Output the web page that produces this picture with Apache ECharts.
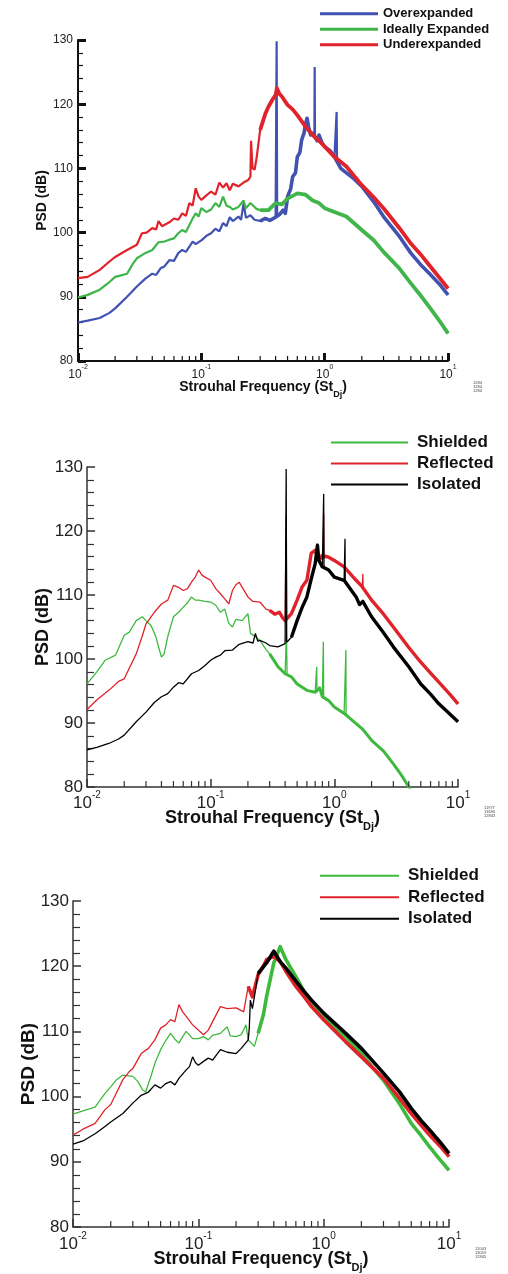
<!DOCTYPE html>
<html><head><meta charset="utf-8">
<script src="https://cdn.jsdelivr.net/npm/echarts@6/dist/echarts.min.js"></script>
<style>html,body{margin:0;padding:0;background:#fff}#c{width:508px;height:1274px}</style>
</head><body><div id="c"></div>
<script>
// ---------- tick labels ----------
const yTicks = [80, 90, 100, 110, 120, 130];
const xDecades = [0.01, 0.1, 1, 10];
const xMinorTicks = [0.02,0.03,0.04,0.05,0.06,0.07,0.08,0.09,0.2,0.3,0.4,0.5,0.6,0.7,0.8,0.9,2,3,4,5,6,7,8,9];

// ---------- panel 1 ----------
const p1Names = ['Overexpanded', 'Ideally Expanded', 'Underexpanded'];
const p1Over = [[0.01,86.0],[0.012,86.3],[0.015,86.7],[0.018,87.5],[0.02,88.2],[0.025,90.0],[0.03,91.6],[0.035,92.8],[0.04,93.6],[0.043,93.4],[0.047,94.5],[0.05,94.7],[0.055,95.7],[0.06,95.6],[0.065,96.8],[0.07,97.3],[0.075,97.0],[0.08,97.8],[0.085,98.6],[0.09,98.2],[0.1,98.8],[0.11,99.5],[0.12,99.9],[0.13,100.6],[0.14,100.2],[0.15,101.5],[0.16,101.0],[0.17,102.4],[0.18,101.8],[0.2,102.5],[0.21,102.0],[0.22,104.6],[0.23,102.3],[0.25,102.7],[0.27,102.0],[0.3,101.8],[0.33,102.2],[0.36,101.9],[0.4,102.4],[0.43,102.8],[0.46,103.5],[0.48,103.0],[0.5,105.6],[0.53,106.8],[0.55,108.7],[0.58,109.3],[0.6,111.8],[0.63,112.5],[0.65,114.4],[0.68,115.5],[0.7,117.0],[0.72,117.8],[0.74,116.5],[0.77,115.2],[0.8,115.5],[0.87,114.3],[0.9,115.2],[0.95,114.0],[1.0,113.4],[1.1,112.8],[1.2,111.8],[1.35,110.0],[1.5,109.3],[1.7,108.5],[2.0,107.2],[2.5,104.8],[3.0,102.5],[4.0,99.5],[5.0,96.8],[6.0,95.0],[7.0,93.7],[8.5,92.0],[10,90.3]];
const p1OverTones = [[0.405,102.6],[0.408,129.8],[0.412,102.8],[0.825,114.8],[0.83,125.8],[0.835,114.8],[1.24,111.5],[1.25,118.8],[1.26,111.3]];
const p1Ideal = [[0.01,89.9],[0.012,90.3],[0.015,91.1],[0.018,92.3],[0.02,93.1],[0.022,93.3],[0.025,93.6],[0.028,95.2],[0.03,96.0],[0.035,96.8],[0.04,97.3],[0.045,98.5],[0.05,98.6],[0.055,98.9],[0.06,99.1],[0.065,99.9],[0.07,100.4],[0.075,100.1],[0.08,101.2],[0.085,102.2],[0.09,103.0],[0.095,102.5],[0.1,103.8],[0.11,103.2],[0.12,103.6],[0.13,104.6],[0.14,104.0],[0.15,105.6],[0.16,104.2],[0.17,104.0],[0.18,103.6],[0.2,104.0],[0.22,105.0],[0.23,103.8],[0.25,104.6],[0.28,103.7],[0.3,103.5],[0.35,103.5],[0.4,104.6],[0.45,104.4],[0.5,105.3],[0.6,106.1],[0.7,105.9],[0.8,105.0],[0.9,104.6],[1.0,103.8],[1.2,103.2],[1.5,102.5],[2.0,100.4],[2.5,98.8],[3.0,97.0],[4.0,94.5],[5.0,92.1],[6.0,90.2],[7.0,88.5],[8.5,86.3],[10,84.3]];
const p1Under = [[0.01,92.9],[0.012,93.1],[0.015,94.2],[0.018,95.5],[0.02,96.2],[0.025,97.3],[0.03,98.1],[0.033,99.9],[0.036,100.0],[0.04,100.7],[0.043,100.5],[0.045,101.8],[0.048,101.0],[0.05,101.2],[0.055,101.6],[0.06,102.2],[0.065,102.0],[0.07,103.0],[0.075,102.6],[0.08,104.6],[0.085,104.2],[0.09,106.9],[0.095,105.6],[0.1,105.1],[0.11,105.8],[0.12,106.4],[0.13,105.9],[0.14,107.8],[0.15,107.0],[0.16,107.7],[0.17,106.6],[0.18,107.6],[0.2,107.2],[0.22,107.8],[0.24,108.2],[0.25,108.7],[0.253,114.3],[0.26,110.0],[0.27,109.8],[0.28,111.5],[0.3,116.0],[0.33,118.5],[0.35,119.6],[0.38,120.8],[0.4,121.4],[0.41,122.5],[0.43,121.6],[0.45,121.2],[0.5,119.9],[0.55,119.2],[0.6,118.3],[0.7,116.5],[0.8,115.2],[0.9,114.3],[1.0,113.4],[1.2,111.8],[1.5,110.3],[2.0,107.4],[2.5,105.5],[3.0,103.8],[4.0,100.8],[5.0,98.3],[6.0,96.6],[7.0,95.0],[8.5,93.0],[10,91.3]];

// ---------- panel 2 ----------
const p23Names = ['Shielded', 'Reflected', 'Isolated'];
const p2Shielded = [[0.01,96.1],[0.012,98.0],[0.014,99.8],[0.017,100.6],[0.02,103.7],[0.022,104.2],[0.025,106.0],[0.028,106.6],[0.03,106.0],[0.033,105.2],[0.036,103.5],[0.038,101.8],[0.04,100.3],[0.042,100.8],[0.045,103.5],[0.05,106.6],[0.055,107.3],[0.06,108.1],[0.065,108.8],[0.07,109.7],[0.075,109.2],[0.08,109.2],[0.09,109.0],[0.1,108.9],[0.11,108.4],[0.12,107.3],[0.13,107.8],[0.14,105.6],[0.15,105.0],[0.16,106.2],[0.18,106.0],[0.2,107.1],[0.21,104.0],[0.23,103.5],[0.25,102.9],[0.28,101.5],[0.3,100.8],[0.35,98.8],[0.4,97.7],[0.45,97.2],[0.5,96.1],[0.6,95.1],[0.7,94.8],[0.76,95.5],[0.8,94.1],[0.9,93.5],[1.0,92.5],[1.2,91.5],[1.5,89.9],[1.7,89.0],[2.0,87.3],[2.5,85.6],[3.0,83.6],[3.5,81.8],[4.0,80.0],[4.5,78.5]];
const p2ShieldedTones = [[0.405,97.6],[0.41,104.0],[0.415,97.5],[0.715,94.8],[0.72,98.8],[0.725,94.8],[0.81,94.2],[0.815,102.7],[0.82,94.0],[1.235,91.3],[1.24,101.4],[1.245,91.2]];
const p2Reflected = [[0.01,92.1],[0.012,93.6],[0.015,95.1],[0.018,96.5],[0.02,96.9],[0.022,98.6],[0.025,100.8],[0.028,103.6],[0.03,105.5],[0.035,107.3],[0.04,108.6],[0.045,109.2],[0.05,111.5],[0.055,111.2],[0.06,110.7],[0.065,111.0],[0.07,112.0],[0.075,112.8],[0.08,113.9],[0.085,113.1],[0.09,112.8],[0.1,112.3],[0.11,111.0],[0.12,110.2],[0.13,109.4],[0.14,108.6],[0.15,110.7],[0.16,111.6],[0.17,112.0],[0.18,111.2],[0.2,109.7],[0.22,109.0],[0.25,108.9],[0.28,107.8],[0.3,107.6],[0.33,107.0],[0.36,107.3],[0.38,106.5],[0.4,106.0],[0.45,107.1],[0.5,109.2],[0.55,111.3],[0.6,112.3],[0.65,116.5],[0.7,117.0],[0.75,115.4],[0.8,116.2],[0.9,115.9],[1.0,115.4],[1.2,114.4],[1.5,112.3],[1.68,111.3],[1.72,111.0],[2.0,109.2],[2.5,107.0],[3.0,105.0],[4.0,101.8],[5.0,99.5],[6.0,97.8],[7.0,96.4],[8.5,94.6],[10,93.0]];
const p2ReflectedTones = [[0.405,106.2],[0.408,122.4],[0.412,106.5],[0.815,115.8],[0.82,122.7],[0.825,115.8],[1.69,111.3],[1.7,113.3],[1.71,111.1]];
const p2Isolated = [[0.01,85.8],[0.012,86.2],[0.015,86.8],[0.018,87.5],[0.02,88.1],[0.025,90.2],[0.03,91.7],[0.035,93.2],[0.04,94.1],[0.045,94.6],[0.05,95.6],[0.055,96.3],[0.06,96.1],[0.07,97.7],[0.08,98.2],[0.09,99.0],[0.1,99.8],[0.11,100.3],[0.12,100.6],[0.13,101.3],[0.15,101.4],[0.17,102.3],[0.2,102.7],[0.22,102.5],[0.23,104.0],[0.24,102.8],[0.25,102.9],[0.28,102.5],[0.3,102.1],[0.35,101.9],[0.4,102.4],[0.45,103.4],[0.5,106.0],[0.55,108.1],[0.6,109.7],[0.65,112.5],[0.7,114.9],[0.73,117.8],[0.75,115.4],[0.8,114.4],[0.9,113.9],[1.0,112.8],[1.2,112.3],[1.5,109.7],[1.6,108.5],[1.7,109.0],[2.0,106.6],[2.5,104.1],[3.0,101.9],[4.0,98.8],[5.0,96.1],[6.0,94.5],[7.0,93.0],[8.5,91.5],[10,90.2]];
const p2IsolatedTones = [[0.405,102.5],[0.408,129.7],[0.412,102.6],[0.815,114.3],[0.82,125.8],[0.825,114.2],[1.215,112.2],[1.22,118.8],[1.225,112.0]];

// ---------- panel 3 ----------
const p3Shielded = [[0.01,97.3],[0.012,97.8],[0.015,98.4],[0.018,100.5],[0.02,101.5],[0.022,102.5],[0.025,103.3],[0.03,103.1],[0.033,102.3],[0.036,101.0],[0.038,100.7],[0.042,103.2],[0.045,105.1],[0.05,107.2],[0.055,108.6],[0.06,109.7],[0.065,108.8],[0.07,108.2],[0.075,109.2],[0.08,110.0],[0.09,108.9],[0.1,108.9],[0.11,109.2],[0.12,108.7],[0.13,109.4],[0.15,109.7],[0.17,110.7],[0.18,109.3],[0.2,109.2],[0.22,109.5],[0.24,111.0],[0.25,108.7],[0.28,107.7],[0.3,109.7],[0.33,112.5],[0.35,115.3],[0.4,120.5],[0.45,123.0],[0.5,121.0],[0.6,118.4],[0.7,116.1],[0.8,114.3],[1.0,112.3],[1.5,109.2],[2.0,106.6],[3.0,102.5],[4.0,99.0],[5.0,95.9],[6.0,94.0],[7.0,92.3],[8.5,90.3],[10,88.7]];
const p3Reflected = [[0.01,94.1],[0.012,95.0],[0.015,95.9],[0.018,98.0],[0.02,98.8],[0.022,100.4],[0.025,102.6],[0.028,103.8],[0.03,104.3],[0.035,106.6],[0.04,107.4],[0.045,108.7],[0.05,110.5],[0.055,111.0],[0.06,111.8],[0.065,111.5],[0.07,114.1],[0.075,113.0],[0.08,112.3],[0.09,111.0],[0.1,110.2],[0.11,109.5],[0.12,110.2],[0.13,111.5],[0.15,113.8],[0.17,113.5],[0.2,113.6],[0.23,113.0],[0.25,116.9],[0.27,115.3],[0.3,118.7],[0.33,120.0],[0.35,121.0],[0.4,121.5],[0.45,120.7],[0.5,119.2],[0.6,116.9],[0.7,115.3],[0.8,113.8],[1.0,111.8],[1.5,108.4],[2.0,106.1],[3.0,102.8],[4.0,99.8],[5.0,97.4],[6.0,95.6],[7.0,94.1],[8.5,92.4],[10,90.8]];
const p3Isolated = [[0.01,92.7],[0.012,93.2],[0.015,94.3],[0.018,95.4],[0.02,96.1],[0.025,97.4],[0.03,99.0],[0.035,100.2],[0.04,100.7],[0.045,101.8],[0.05,101.3],[0.055,102.0],[0.06,102.3],[0.065,101.8],[0.07,102.8],[0.08,104.1],[0.085,104.6],[0.09,106.1],[0.095,105.2],[0.1,104.8],[0.11,105.4],[0.12,105.9],[0.13,105.6],[0.15,107.2],[0.17,106.8],[0.2,106.6],[0.22,107.4],[0.25,108.7],[0.255,110.5],[0.26,114.8],[0.27,113.5],[0.28,115.3],[0.3,118.9],[0.35,120.5],[0.4,122.3],[0.45,120.7],[0.5,119.7],[0.6,117.7],[0.7,116.1],[0.8,114.8],[1.0,112.8],[1.5,109.7],[2.0,107.4],[3.0,103.6],[4.0,100.8],[5.0,98.2],[6.0,96.3],[7.0,94.9],[8.5,93.0],[10,91.3]];

// ---------- build ----------
const FONT = '"Liberation Sans", Arial, Helvetica, sans-serif';
const BLUE = '#4252b0', GREEN1 = '#3fb54a', GREEN = '#3dba3d', RED = '#e0232b', BLACK = '#000000';

function mkLines(idx, name, color, broad, tones, thr, thinW, thickW) {
  const merged = broad.concat(tones || []).sort((a, b) => a[0] - b[0]);
  return [
    { type: 'line', name: name, xAxisIndex: idx, yAxisIndex: idx, data: merged, symbol: 'none',
      lineStyle: { color: color, width: thinW }, itemStyle: { color: color }, animation: false, z: 2 },
    { type: 'line', name: name + ' hf', xAxisIndex: idx, yAxisIndex: idx, data: broad.filter(d => d[0] >= thr),
      symbol: 'none', lineStyle: { color: color, width: thickW, join: 'round' }, itemStyle: { color: color }, animation: false, z: 2 }
  ];
}
function minorTicks(idx, len, w, color) {
  return { type: 'custom', xAxisIndex: idx, yAxisIndex: idx, silent: true, clip: false, z: 5, animation: false,
    data: xMinorTicks.map(v => [v, yTicks[0]]),
    renderItem: function (params, api) {
      const p = api.coord([api.value(0), api.value(1)]);
      return { type: 'line', shape: { x1: p[0], y1: p[1], x2: p[0], y2: p[1] - len }, style: { stroke: color, lineWidth: w } };
    } };
}
function xAx(idx, s) {
  return { type: 'log', logBase: 10, gridIndex: idx, min: xDecades[0], max: xDecades[xDecades.length - 1],
    name: '{t|Strouhal Frequency (St}{sub|Dj}{t|)}', nameLocation: 'middle', nameGap: s.nameGap, nameMoveOverlap: false,
    nameTextStyle: { rich: {
      t: { fontFamily: FONT, fontWeight: 'bold', fontSize: s.nameSize, color: '#111', lineHeight: s.nameSize + 5, verticalAlign: 'top' },
      sub: { fontFamily: FONT, fontWeight: 'bold', fontSize: Math.round(s.nameSize * 0.62), color: '#111', lineHeight: Math.round(s.nameSize * 0.62), verticalAlign: 'bottom' } } },
    axisLine: { onZero: false, lineStyle: { color: s.axisColor, width: s.axisW } },
    axisTick: { inside: true, length: s.majLen, lineStyle: { color: s.axisColor, width: s.majW } },
    minorTick: { show: false }, splitLine: { show: false },
    axisLabel: { margin: s.labMargin, formatter: v => '{b|10}{s|' + Math.round(Math.log10(v)) + '}',
      rich: { b: { fontFamily: FONT, fontSize: s.labSize, color: '#222', lineHeight: s.labSize + 5, verticalAlign: 'bottom' },
              s: { fontFamily: FONT, fontSize: Math.round(s.labSize * 0.6), color: '#222', lineHeight: Math.round(s.labSize * 0.6), verticalAlign: 'top' } } } };
}
function yAx(idx, s) {
  return { type: 'value', gridIndex: idx, min: yTicks[0], max: yTicks[yTicks.length - 1], interval: 10,
    name: 'PSD (dB)', nameLocation: 'middle', nameRotate: 90, nameGap: s.yNameGap, nameMoveOverlap: false,
    nameTextStyle: { fontFamily: FONT, fontWeight: 'bold', fontSize: s.yNameSize, color: '#111' },
    axisLine: { lineStyle: { color: s.axisColor, width: s.axisW } },
    axisTick: { inside: true, length: s.majLen, lineStyle: { color: s.axisColor, width: s.majW } },
    minorTick: { show: true, splitNumber: 5, length: s.minLen, lineStyle: { color: s.axisColor, width: s.minW } },
    splitLine: { show: false },
    axisLabel: { margin: s.yLabMargin, fontFamily: FONT, fontSize: s.labSize, color: '#222' } };
}
const S1 = { nameGap: 19, nameSize: 14, axisColor: '#111', axisW: 2, majLen: 8, majW: 3, minLen: 5, minW: 1.2, labMargin: 3, labSize: 12, yNameGap: 29, yNameSize: 14, yLabMargin: 5 };
const S2 = { nameGap: 22, nameSize: 18, axisColor: '#333', axisW: 1.5, majLen: 8, majW: 1.5, minLen: 7, minW: 1.2, labMargin: 3, labSize: 17, yNameGap: 35, yNameSize: 18, yLabMargin: 4 };
const S3 = { nameGap: 23, nameSize: 18, axisColor: '#333', axisW: 1.5, majLen: 8, majW: 1.5, minLen: 7, minW: 1.2, labMargin: 4, labSize: 17, yNameGap: 35, yNameSize: 19, yLabMargin: 4 };

function legend(names, s) {
  return { data: names, orient: 'vertical', left: s.left, top: s.top, icon: 'rect', itemWidth: s.w, itemHeight: s.h, itemGap: 0,
    selectedMode: false,
    textStyle: { fontFamily: FONT, fontWeight: 'bold', fontSize: s.size, color: '#111', lineHeight: s.lh, padding: [0, 0, 0, s.pad] } };
}

const series = [].concat(
  mkLines(0, p1Names[0], BLUE, p1Over, p1OverTones, 0.3, 2.2, 3.6),
  mkLines(0, p1Names[1], GREEN1, p1Ideal, [], 0.3, 2.2, 3.8),
  mkLines(0, p1Names[2], RED, p1Under, [], 0.3, 2.2, 3.8),
  mkLines(1, p23Names[0], GREEN, p2Shielded, p2ShieldedTones, 0.3, 1.3, 3.0),
  mkLines(1, p23Names[1], RED, p2Reflected, p2ReflectedTones, 0.3, 1.3, 3.4),
  mkLines(1, p23Names[2], BLACK, p2Isolated, p2IsolatedTones, 0.45, 1.3, 3.4),
  mkLines(2, p23Names[0], GREEN, p3Shielded, [], 0.3, 1.3, 3.6),
  mkLines(2, p23Names[1], RED, p3Reflected, [], 0.25, 1.3, 3.6),
  mkLines(2, p23Names[2], BLACK, p3Isolated, [], 0.3, 1.3, 3.6),
  [minorTicks(0, 5, 1.2, '#111'), minorTicks(1, 6, 1.2, '#333'), minorTicks(2, 6, 1.2, '#333')]
);

const chart = echarts.init(document.getElementById('c'), null, { renderer: 'canvas' });
chart.setOption({
  backgroundColor: '#ffffff',
  animation: false,
  grid: [
    { left: 78, top: 40, width: 370, height: 321 },
    { left: 87, top: 467, width: 371, height: 320 },
    { left: 73, top: 901, width: 376, height: 326 }
  ],
  xAxis: [xAx(0, S1), xAx(1, S2), xAx(2, S3)],
  yAxis: [yAx(0, S1), yAx(1, S2), yAx(2, S3)],
  legend: [
    legend(p1Names, { left: 315, top: 1, w: 58, h: 3, size: 13, lh: 15.5, pad: 0 }),
    legend(p23Names, { left: 326, top: 427, w: 77, h: 2, size: 17, lh: 21, pad: 4 }),
    legend(p23Names, { left: 315, top: 860, w: 79, h: 2, size: 17, lh: 21.5, pad: 4 })
  ],
  graphic: [
    { type: 'text', left: 473, top: 381, style: { text: '1284\n1284\n1284', fontSize: 4, fontFamily: FONT, fill: '#444' } },
    { type: 'text', left: 484, top: 806, style: { text: '11977\n13690\n12843', fontSize: 4, fontFamily: FONT, fill: '#444' } },
    { type: 'text', left: 475, top: 1247, style: { text: '12003\n13019\n12845', fontSize: 4, fontFamily: FONT, fill: '#444' } }
  ],
  series: series
});
</script></body></html>
